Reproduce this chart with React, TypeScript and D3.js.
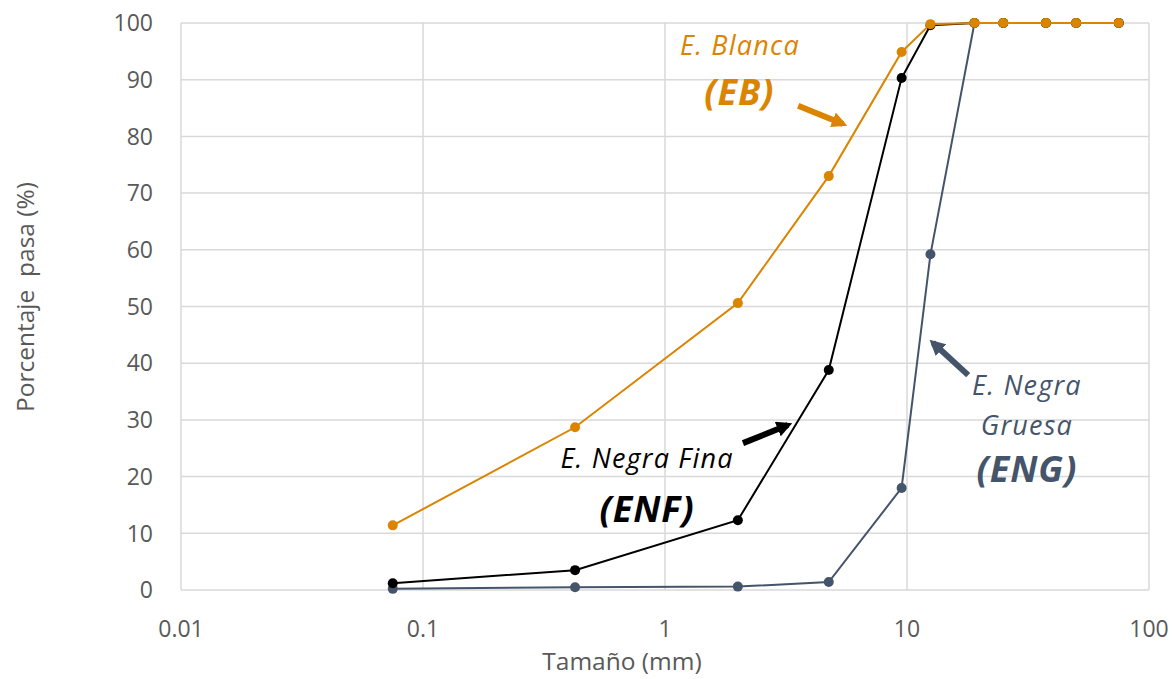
import * as d3 from "d3";

const W = 1175;
const H = 679;

const FONT = "'Open Sans', 'DejaVu Sans', sans-serif";
const TEXT_GRAY = "#595959";
const GRID = "#D9D9D9";

const ORANGE = "#DB8400";
const BLACK = "#000000";
const SLATE = "#44546A";

// sieve sizes (mm)
const sizes = [0.075, 0.425, 2, 4.75, 9.5, 12.5, 19, 25, 37.5, 50, 75];

// percent passing
const engValues = [0.2, 0.5, 0.6, 1.4, 18.0, 59.2, 100, 100, 100, 100, 100];
const enfValues = [1.2, 3.5, 12.3, 38.8, 90.3, 99.6, 100, 100, 100, 100, 100];
const ebValues = [11.4, 28.7, 50.6, 73.0, 94.9, 99.8, 100, 100, 100, 100, 100];

const xTicks = [0.01, 0.1, 1, 10, 100];
const yTicks = [0, 10, 20, 30, 40, 50, 60, 70, 80, 90, 100];

const series = [
  { key: "ENG", color: SLATE, values: engValues },
  { key: "ENF", color: BLACK, values: enfValues },
  { key: "EB", color: ORANGE, values: ebValues },
];

const margin = { top: 23, right: 26, bottom: 89, left: 181 };

export default function App() {
  const x = d3
    .scaleLog()
    .domain([0.01, 100])
    .range([margin.left, W - margin.right]);
  const y = d3
    .scaleLinear()
    .domain([0, 100])
    .range([H - margin.bottom, margin.top]);

  const line = d3
    .line<[number, number]>()
    .x((d) => x(d[0]))
    .y((d) => y(d[1]));

  const arrow = (x0: number, y0: number, x1: number, y1: number, color: string, id: string) => (
    <g>
      <defs>
        <marker
          id={id}
          viewBox="0 0 10 10"
          refX="7"
          refY="5"
          markerWidth="2.6"
          markerHeight="2.6"
          orient="auto"
        >
          <path d="M0,0 L10,5 L0,10 z" fill={color} />
        </marker>
      </defs>
      <line
        x1={x(x0)}
        y1={y(y0)}
        x2={x(x1)}
        y2={y(y1)}
        stroke={color}
        strokeWidth={6}
        markerEnd={`url(#${id})`}
      />
    </g>
  );

  // annotation text styles
  const label = { fontSize: 27, fontStyle: "italic", letterSpacing: 1.2 } as const;
  const tag = { fontSize: 36, fontStyle: "italic", fontWeight: "bold", letterSpacing: 1 } as const;

  return (
    <svg
      width={W}
      height={H}
      style={{ position: "absolute", left: 0, top: 0, background: "#fff" }}
      fontFamily={FONT}
    >
      {/* grid */}
      {yTicks.map((t) => (
        <line
          key={`gy${t}`}
          x1={x.range()[0]}
          x2={x.range()[1]}
          y1={y(t)}
          y2={y(t)}
          stroke={GRID}
          strokeWidth={1.5}
        />
      ))}
      {xTicks.map((t) => (
        <line
          key={`gx${t}`}
          x1={x(t)}
          x2={x(t)}
          y1={y.range()[0]}
          y2={y.range()[1]}
          stroke={GRID}
          strokeWidth={1.5}
        />
      ))}

      {/* tick labels */}
      {yTicks.map((t) => (
        <text
          key={`ty${t}`}
          x={x.range()[0] - 28}
          y={y(t)}
          dy="0.36em"
          textAnchor="end"
          fontSize={23}
          fill={TEXT_GRAY}
        >
          {t}
        </text>
      ))}
      {xTicks.map((t) => (
        <text
          key={`tx${t}`}
          x={x(t)}
          y={y(0) + 47}
          textAnchor="middle"
          fontSize={23}
          fill={TEXT_GRAY}
        >
          {String(t)}
        </text>
      ))}

      {/* axis titles */}
      <text x={622} y={670} textAnchor="middle" fontSize={24.5} fill={TEXT_GRAY}>
        Tamaño (mm)
      </text>
      <text
        transform={`translate(34,297) rotate(-90)`}
        textAnchor="middle"
        fontSize={24.5}
        fill={TEXT_GRAY}
        style={{ whiteSpace: "pre" }}
      >
        {"Porcentaje  pasa (%)"}
      </text>

      {/* series */}
      {series.map((s) => {
        const pts = sizes.map((v, i) => [v, s.values[i]] as [number, number]);
        return (
          <g key={s.key}>
            <path d={line(pts) ?? ""} fill="none" stroke={s.color} strokeWidth={2} />
            {pts.map((p, i) => (
              <circle key={i} cx={x(p[0])} cy={y(p[1])} r={5} fill={s.color} />
            ))}
          </g>
        );
      })}

      {/* annotations */}
      <text x={x(2.04)} y={y(94.4)} textAnchor="middle" {...label} fill={ORANGE}>
        E. Blanca
      </text>
      <text x={x(2.03)} y={y(85.5)} textAnchor="middle" {...tag} fill={ORANGE}>
        (EB)
      </text>
      {arrow(3.55, 85.4, 5.44, 82.2, ORANGE, "arrEB")}

      <text x={x(0.843)} y={y(21.5)} textAnchor="middle" {...label} fill={BLACK}>
        E. Negra Fina
      </text>
      <text x={x(0.843)} y={y(12.0)} textAnchor="middle" {...tag} fill={BLACK}>
        (ENF)
      </text>
      {arrow(2.1, 25.9, 3.22, 29.1, BLACK, "arrENF")}

      <text x={x(31.3)} y={y(34.4)} textAnchor="middle" {...label} fill={SLATE}>
        E. Negra
      </text>
      <text x={x(31.3)} y={y(27.3)} textAnchor="middle" {...label} fill={SLATE}>
        Gruesa
      </text>
      <text x={x(31.3)} y={y(19.0)} textAnchor="middle" {...tag} fill={SLATE}>
        (ENG)
      </text>
      {arrow(17.9, 37.9, 12.8, 43.6, SLATE, "arrENG")}
    </svg>
  );
}
